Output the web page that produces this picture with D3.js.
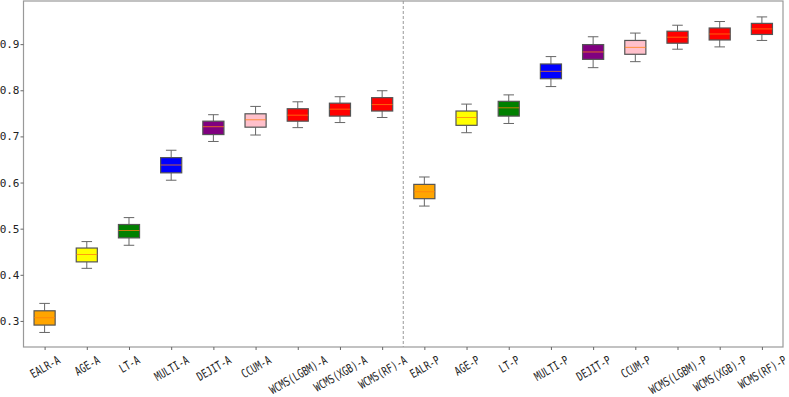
<!DOCTYPE html>
<html>
<head>
  <meta charset="utf-8">
  <title>Boxplot A / P</title>
  <style>
    body { margin: 0; padding: 0; background: #fff; overflow: hidden; }
    text { font-family: "DejaVu Sans Mono", "Liberation Mono", monospace; fill: #222; }
  </style>
</head>
<body>
  <div id="chart"></div>
  <script src="https://d3js.org/d3.v7.min.js"></script>
  <script>
    const categories = [
      'EALR-A', 'AGE-A', 'LT-A', 'MULTI-A', 'DEJIT-A', 'CCUM-A', 'WCMS(LGBM)-A', 'WCMS(XGB)-A', 'WCMS(RF)-A',
      'EALR-P', 'AGE-P', 'LT-P', 'MULTI-P', 'DEJIT-P', 'CCUM-P', 'WCMS(LGBM)-P', 'WCMS(XGB)-P', 'WCMS(RF)-P'
    ];
    const whiskerLow = [0.275, 0.414, 0.464, 0.605, 0.689, 0.703, 0.719, 0.730, 0.741,
                        0.549, 0.708, 0.728, 0.808, 0.849, 0.862, 0.889, 0.894, 0.908];
    const q1 = [0.291, 0.428, 0.480, 0.621, 0.704, 0.720, 0.733, 0.744, 0.755,
                0.565, 0.724, 0.744, 0.825, 0.867, 0.878, 0.902, 0.909, 0.921];
    const medians = [0.307, 0.444, 0.496, 0.638, 0.721, 0.736, 0.746, 0.759, 0.769,
                     0.580, 0.741, 0.762, 0.841, 0.883, 0.893, 0.915, 0.922, 0.933];
    const q3 = [0.322, 0.458, 0.509, 0.654, 0.733, 0.749, 0.760, 0.772, 0.784,
                0.596, 0.755, 0.776, 0.857, 0.899, 0.908, 0.928, 0.935, 0.945];
    const whiskerHigh = [0.338, 0.472, 0.524, 0.670, 0.747, 0.765, 0.775, 0.786, 0.799,
                         0.612, 0.770, 0.790, 0.873, 0.916, 0.924, 0.941, 0.949, 0.959];
    const boxColors = ['orange', 'yellow', 'green', 'blue', 'purple', 'pink', 'red', 'red', 'red',
                       'orange', 'yellow', 'green', 'blue', 'purple', 'pink', 'red', 'red', 'red'];
    const yTicks = [0.3, 0.4, 0.5, 0.6, 0.7, 0.8, 0.9];
    const splitAt = 9.5;

    const width = 789, height = 397;
    const margin = { top: 1, right: 6, bottom: 50, left: 23.5 };

    const boxes = categories.map((c, i) => ({
      name: c, pos: i + 1,
      lo: whiskerLow[i], q1: q1[i], med: medians[i], q3: q3[i], hi: whiskerHigh[i],
      color: boxColors[i]
    }));

    const svg = d3.select('#chart').append('svg')
      .attr('width', width).attr('height', height);

    const x = d3.scaleLinear()
      .domain([0.5, categories.length + 0.5])
      .range([margin.left, width - margin.right]);
    const y = d3.scaleLinear()
      .domain([0.2435, 0.9935])
      .range([height - margin.bottom, margin.top]);

    const boxW = x(1.25) - x(1);   // half width of a box (width 0.5)
    const capW = boxW / 2;

    // separator
    svg.append('line')
      .attr('x1', x(splitAt)).attr('x2', x(splitAt))
      .attr('y1', y.range()[1]).attr('y2', y.range()[0])
      .attr('stroke', '#999').attr('stroke-width', 1)
      .attr('stroke-dasharray', '3,2');

    const g = svg.append('g').selectAll('g')
      .data(boxes)
      .enter().append('g');

    // whiskers
    g.append('line')
      .attr('x1', d => x(d.pos)).attr('x2', d => x(d.pos))
      .attr('y1', d => y(d.hi)).attr('y2', d => y(d.q3))
      .attr('stroke', '#666');
    g.append('line')
      .attr('x1', d => x(d.pos)).attr('x2', d => x(d.pos))
      .attr('y1', d => y(d.q1)).attr('y2', d => y(d.lo))
      .attr('stroke', '#666');
    // caps
    g.append('line')
      .attr('x1', d => x(d.pos) - capW).attr('x2', d => x(d.pos) + capW)
      .attr('y1', d => y(d.hi)).attr('y2', d => y(d.hi))
      .attr('stroke', '#666');
    g.append('line')
      .attr('x1', d => x(d.pos) - capW).attr('x2', d => x(d.pos) + capW)
      .attr('y1', d => y(d.lo)).attr('y2', d => y(d.lo))
      .attr('stroke', '#666');
    // box
    g.append('rect')
      .attr('x', d => x(d.pos) - boxW)
      .attr('width', boxW * 2)
      .attr('y', d => y(d.q3))
      .attr('height', d => y(d.q1) - y(d.q3))
      .attr('fill', d => d.color)
      .attr('stroke', '#555').attr('stroke-width', 1.2);
    // median
    g.append('line')
      .attr('x1', d => x(d.pos) - boxW).attr('x2', d => x(d.pos) + boxW)
      .attr('y1', d => y(d.med)).attr('y2', d => y(d.med))
      .attr('stroke', '#ff7f0e').attr('stroke-opacity', 0.75);

    // frame
    svg.append('rect')
      .attr('x', x.range()[0]).attr('y', y.range()[1])
      .attr('width', x.range()[1] - x.range()[0])
      .attr('height', y.range()[0] - y.range()[1])
      .attr('fill', 'none').attr('stroke', '#999').attr('stroke-width', 1.2);

    // y axis
    const yAxis = svg.append('g')
      .attr('transform', `translate(${x.range()[0]},0)`)
      .call(d3.axisLeft(y).tickValues(yTicks).tickSize(3).tickFormat(d3.format('.1f')));
    yAxis.select('.domain').remove();
    yAxis.selectAll('.tick line').attr('stroke', '#666');
    yAxis.selectAll('.tick text')
      .attr('x', -4)
      .style('font-size', '11px')
      .style('font-family', '"DejaVu Sans Mono", monospace');

    // x axis: labels rotated 30deg, their box centred under the tick (like matplotlib)
    const sx = 0.74, capH = 9, pad = 8;
    const xAxis = svg.append('g')
      .attr('transform', `translate(0,${y.range()[0]})`)
      .call(d3.axisBottom(x).tickValues(boxes.map(d => d.pos)).tickSize(3)
        .tickFormat(d => categories[d - 1]));
    xAxis.select('.domain').remove();
    xAxis.selectAll('.tick line').attr('stroke', '#666');
    xAxis.selectAll('.tick text')
      .attr('y', 0).attr('dy', '0.35em')
      .attr('text-anchor', 'middle')
      .style('font-size', '12px')
      .style('font-family', '"DejaVu Sans Mono", monospace')
      .attr('transform', function () {
        const L = this.getComputedTextLength() * sx;
        const half = (L * 0.5 + capH * 0.866) / 2;
        return `translate(0,${pad + half}) rotate(-30) scale(${sx},1)`;
      });
  </script>
</body>
</html>
